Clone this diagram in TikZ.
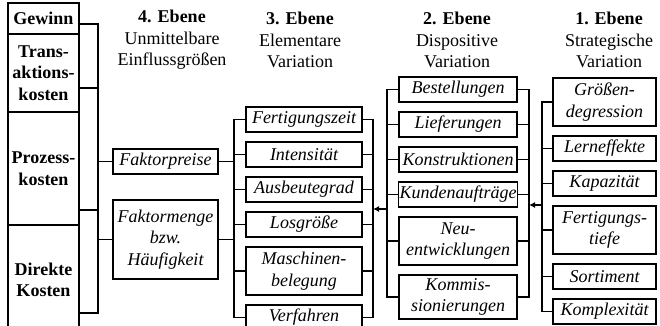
\documentclass[tikz,border=0pt]{standalone}
\usepackage{fontspec}
\setmainfont{Liberation Serif}
\usepackage{tikz}
\usetikzlibrary{arrows.meta,positioning}
\newcommand{\kfont}{\fontsize{9}{10.8}\selectfont}
\tikzset{
  kb/.style={draw, line width=0.9pt, align=center, inner xsep=0.5pt,
             inner ysep=0pt, outer sep=0pt, font=\kfont, minimum height=12.5pt},
  k4/.style={kb, font=\kfont\bfseries, minimum width=35.5pt},
  kf/.style={kb, font=\kfont\itshape, minimum width=52.5pt},
  k3/.style={kb, font=\kfont\itshape, minimum width=58pt},
  k2/.style={kb, font=\kfont\itshape, minimum width=59pt},
  k1/.style={kb, font=\kfont\itshape, minimum width=51.5pt},
  dbl/.style={minimum height=24pt},
  ttl/.style={align=center, font=\kfont},
  ln/.style={draw, line width=0.9pt, line cap=rect},
  ar/.style={draw, line width=0.9pt, -{Latex[length=3pt,width=3pt]}},
}

\begin{document}
\begin{tikzpicture}[x=0.5pt, y=-0.5pt, node distance=5pt]
  \useasboundingbox (0,0) rectangle (660,326);
  \node[ttl] (t4) at (172,40) {\textbf{4. Ebene}\\Unmittelbare\\Einflussgrößen};
  \node[ttl] (t3) at (300,40) {\textbf{3. Ebene}\\Elementare\\Variation};
  \node[ttl] (t2) at (457,40) {\textbf{2. Ebene}\\Dispositive\\Variation};
  \node[ttl] (t1) at (609,40) {\textbf{1. Ebene}\\Strategische\\Variation};

  % Ebene 4
  \node[k4, anchor=north west, minimum height=15.5pt] (gw) at (8,3) {Gewinn};
  \node[k4, below=0pt of gw, minimum height=39pt] (tk) {Trans-\\aktions-\\kosten};
  \node[k4, below=0pt of tk, minimum height=56.5pt] (pk) {Prozess-\\kosten};
  \node[k4, below=0pt of pk, minimum height=55pt] (dk) {Direkte\\Kosten};
  \node[kf, anchor=north west] (fp) at (113,149) {Faktorpreise};
  \node[kf, below=13pt of fp, minimum height=39.5pt] (fm) {Faktormenge\\bzw.\\Häufigkeit};

  % Ebene 3
  \node[k3, anchor=north west] (fz) at (246,107) {Fertigungszeit};
  \node[k3, below=of fz] (it) {Intensität};
  \node[k3, below=of it] (ab) {Ausbeutegrad};
  \node[k3, below=of ab] (lg) {Losgröße};
  \node[k3, dbl, below=of lg] (mb) {Maschinen-\\belegung};
  \node[k3, below=of mb] (vf) {Verfahren};

  % Ebene 2
  \node[k2, anchor=north west] (bs) at (399,77) {Bestellungen};
  \node[k2, below=of bs] (lf) {Lieferungen};
  \node[k2, below=of lf] (ks) {Konstruktionen};
  \node[k2, below=of ks] (ka) {Kundenaufträge};
  \node[k2, dbl, below=of ka] (ne) {Neu-\\entwicklungen};
  \node[k2, below=of ne, minimum height=22pt] (km) {Kommis-\\sionierungen};

  % Ebene 1
  \node[k1, dbl, anchor=north west] (gd) at (553,78) {Größen-\\degression};
  \node[k1, below=of gd] (le) {Lerneffekte};
  \node[k1, below=of le] (kp) {Kapazität};
  \node[k1, dbl, below=of kp] (ft) {Fertigungs-\\tiefe};
  \node[k1, below=of ft] (so) {Sortiment};
  \node[k1, below=of so] (kx) {Komplexität};

  \coordinate (g1) at (98,24);
  \coordinate (g2) at (98,88);
  \coordinate (g3) at (98,210);
  \coordinate (g4) at (98,313);
  \coordinate (b3l) at (234,0);
  \coordinate (b3r) at (373,0);
  \coordinate (b2l) at (387,0);
  \coordinate (b2r) at (529,0);
  \coordinate (b1) at (542,0);
  \coordinate (a3) at (387,209);
  \coordinate (a1) at (542,205);

  \draw[ln] (gw.east |- g1) -- (g1);
  \draw[ln] (tk.east |- g2) -- (g2);
  \draw[ln] (pk.east |- g3) -- (g3);
  \draw[ln] (dk.east |- g4) -- (g4);
  \draw[ln] (g1) -- (g4);
  \draw[ln] (fp.west -| g1) -- (fp.west);
  \draw[ln] (fm.west -| g1) -- (fm.west);
  \draw[ln] (fp.east) -- (fp.east -| b3l);
  \draw[ln] (fm.east) -- (fm.east -| b3l);

  \draw[ln] (fz.west -| b3l) -- (vf.west -| b3l);
  \draw[ln] (fz.east -| b3r) -- (vf.east -| b3r);
  \foreach \n in {fz,it,ab,lg,mb,vf} {
    \draw[ln] (\n.west -| b3l) -- (\n.west);
    \draw[ln] (\n.east) -- (\n.east -| b3r);
  }
  \draw[ln] (bs.west -| b2l) -- (km.west -| b2l);
  \draw[ln] (bs.east -| b2r) -- (km.east -| b2r);
  \foreach \n in {bs,lf,ks,ka,ne,km} {
    \draw[ln] (\n.west -| b2l) -- (\n.west);
    \draw[ln] (\n.east) -- (\n.east -| b2r);
  }
  \draw[ln] (gd.west -| b1) -- (kx.west -| b1);
  \foreach \n in {gd,le,kp,ft,so,kx}
    \draw[ln] (\n.west -| b1) -- (\n.west);

  \draw[ar] (a3) -- (a3 -| b3r);
  \draw[ar] (a1) -- (a1 -| b2r);
\end{tikzpicture}
\end{document}
